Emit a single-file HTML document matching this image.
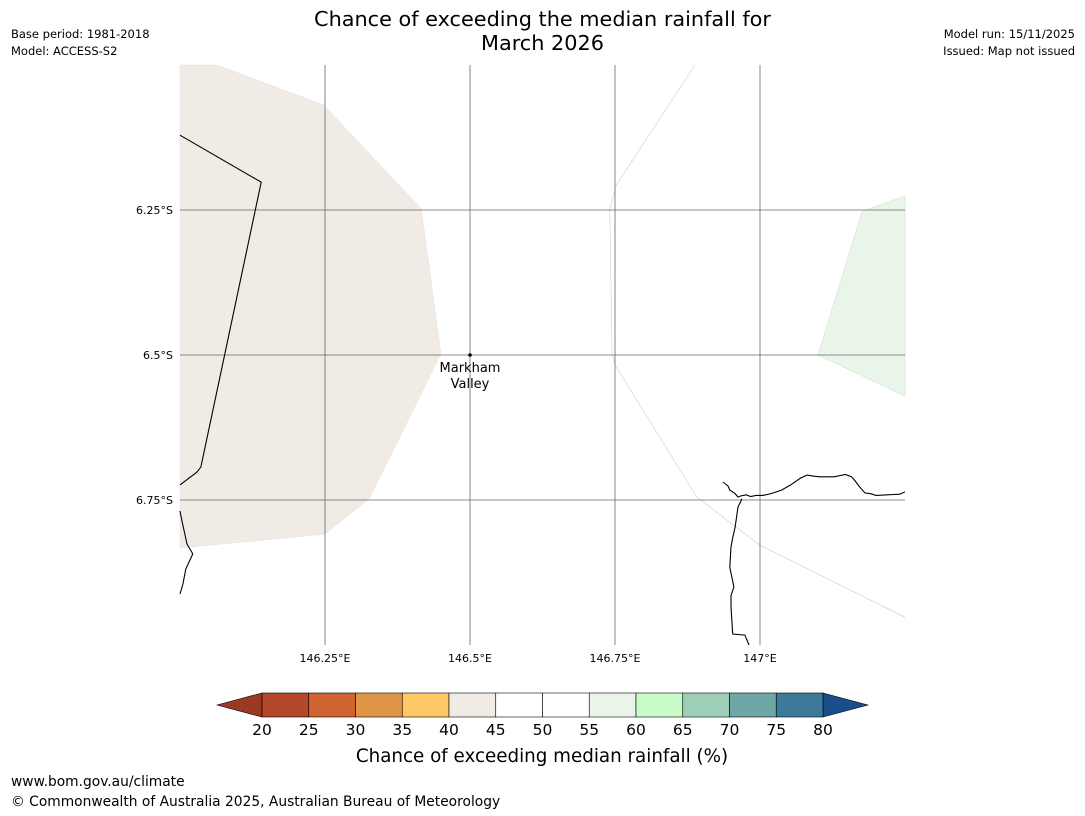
<!DOCTYPE html>
<html><head><meta charset="utf-8"><style>
body{margin:0;background:#fff;font-family:"Liberation Sans","DejaVu Sans",sans-serif;}
#root{position:relative;width:1085px;height:816px;overflow:hidden;background:#fff}
.t{position:absolute;white-space:nowrap;color:#000}
</style></head><body>
<div id="root">
<div class="t" style="left:0;width:1085px;top:7px;text-align:center;font-family:'DejaVu Sans',sans-serif;font-size:20.8px;line-height:24px">Chance of exceeding the median rainfall for<br>March 2026</div>
<div class="t" style="left:11px;top:26px;font-family:'DejaVu Sans',sans-serif;font-size:11.5px;line-height:17px">Base period: 1981-2018<br>Model: ACCESS-S2</div>
<div class="t" style="right:10px;top:26px;text-align:right;font-family:'DejaVu Sans',sans-serif;font-size:11.5px;line-height:17px">Model run: 15/11/2025<br>Issued: Map not issued</div>
<div class="t" style="left:11px;top:774px;font-family:'DejaVu Sans',sans-serif;font-size:13.8px">www.bom.gov.au/climate</div>
<div class="t" style="left:11px;top:794px;font-family:'DejaVu Sans',sans-serif;font-size:13.8px">© Commonwealth of Australia 2025, Australian Bureau of Meteorology</div>
<svg id="svg" width="1085" height="816" style="position:absolute;left:0;top:0" font-family="DejaVu Sans, sans-serif"></svg>
</div>
<script>
const lonTicks=[146.25,146.5,146.75,147];
const lonLabels=["146.25°E","146.5°E","146.75°E","147°E"];
const latTicks=[6.25,6.5,6.75];
const latLabels=["6.25°S","6.5°S","6.75°S"];
const cbLevels=[20,25,30,35,40,45,50,55,60,65,70,75,80];
const cbColors=["#b2472a","#cf6430","#e09446","#fdc865","#f0ebe4","#ffffff","#ffffff","#eaf5ea","#c8fbc8","#9dcfb8","#6fa6a6","#3d7a99"];
const cbUnder="#9a3a25", cbOver="#1a4e8a";
const beige=[[146,6],[146.064,6],[146.248,6.069],[146.416,6.248],[146.45,6.498],[146.326,6.748],[146.25,6.809],[146,6.833]];
const green=[[147.176,6.252],[147.25,6.226],[147.25,6.571],[147.100,6.5]];
const contour=[[146.888,6],[146.752,6.207],[146.741,6.25],[146.745,6.498],[146.75,6.517],[146.891,6.745],[147,6.828],[147.25,6.952]];
const border=[[146,6.121],[146.14,6.202],[146.036,6.693],[146.029,6.702],[146,6.724]];
const coastE=[[146.936,6.719],[146.945,6.726],[146.948,6.733],[146.957,6.739],[146.962,6.745],[146.967,6.743],[146.976,6.741],[146.984,6.744],[146.993,6.742],[147.005,6.742],[147.019,6.739],[147.037,6.733],[147.053,6.724],[147.07,6.712],[147.081,6.707],[147.093,6.709],[147.103,6.71],[147.128,6.71],[147.147,6.706],[147.158,6.71],[147.164,6.717],[147.172,6.728],[147.181,6.738],[147.19,6.739],[147.2,6.742],[147.241,6.74],[147.25,6.736]];
const coastS=[[146.969,6.748],[146.962,6.762],[146.957,6.797],[146.953,6.815],[146.95,6.831],[146.948,6.866],[146.955,6.9],[146.95,6.915],[146.95,6.934],[146.953,6.981],[146.974,6.983],[146.981,7]];
const coastW=[[146,6.769],[146.003,6.784],[146.012,6.826],[146.022,6.843],[146.01,6.869],[146.005,6.895],[146,6.912]];
const mx=l=>180+(l-146)/0.25*145;
const my=l=>65+(l-6)/0.25*145;
const svg=document.getElementById('svg');const NS="http://www.w3.org/2000/svg";
function mk(tag,at,name,txt){const e=document.createElementNS(NS,tag);for(const k in at)e.setAttribute(k,at[k]);


if(txt!==undefined)e.textContent=txt;svg.appendChild(e);return e;}
const pts=a=>a.map(p=>mx(p[0]).toFixed(1)+","+my(p[1]).toFixed(1)).join(" ");
mk('polygon',{points:pts(beige),fill:"#f0ebe4",stroke:"#ddd",'stroke-width':0.4},'beige-region');
mk('polygon',{points:pts(green),fill:"#eaf5ea",stroke:"#ccc",'stroke-width':0.4},'green-region');
mk('polyline',{points:pts(contour),fill:"none",stroke:"#ccc",'stroke-width':0.6},'contour-line');
lonTicks.forEach((v,i)=>{mk('line',{x1:mx(v),x2:mx(v),y1:65,y2:645,stroke:"#666",'stroke-width':0.8},'lon-gridline');
mk('text',{x:mx(v),y:662,'text-anchor':'middle','font-size':11},'lon-tick-label',lonLabels[i]);});
latTicks.forEach((v,i)=>{mk('line',{x1:180,x2:905,y1:my(v),y2:my(v),stroke:"#666",'stroke-width':0.8},'lat-gridline');
mk('text',{x:173,y:my(v)+4,'text-anchor':'end','font-size':11},'lat-tick-label',latLabels[i]);});
[border,coastE,coastS,coastW].forEach(c=>mk('polyline',{points:pts(c),fill:"none",stroke:"#000",'stroke-width':1.1},'coastline'));
mk('circle',{cx:mx(146.5),cy:my(6.5),r:1.8,fill:"#000"},'markham-valley-marker');
mk('text',{x:470,y:372,'text-anchor':'middle','font-size':13},'markham-label','Markham');
mk('text',{x:470,y:388,'text-anchor':'middle','font-size':13},'valley-label','Valley');
const cx0=262,cx1=823,cy=693,ch=24;
const cw=(cx1-cx0)/(cbLevels.length-1);
const cbx=v=>cx0+(v-cbLevels[0])*cw/(cbLevels[1]-cbLevels[0]);
mk('polygon',{points:`217,${cy+ch/2} ${cx0},${cy} ${cx0},${cy+ch}`,fill:cbUnder,stroke:"#000",'stroke-width':0.6},'colorbar-under');
mk('polygon',{points:`868,${cy+ch/2} ${cx1},${cy} ${cx1},${cy+ch}`,fill:cbOver,stroke:"#000",'stroke-width':0.6},'colorbar-over');
cbColors.forEach((c,i)=>{mk('rect',{x:cbx(cbLevels[i]),y:cy,width:cw,height:ch,fill:c,stroke:"#000",'stroke-width':0.6},'colorbar-bin');});
cbLevels.forEach(v=>mk('text',{x:cbx(v),y:735,'text-anchor':'middle','font-size':15.5},'colorbar-tick-label',String(v)));
mk('text',{x:542,y:762,'text-anchor':'middle','font-size':18.3},'colorbar-title','Chance of exceeding median rainfall (%)');
</script>
</body></html>
